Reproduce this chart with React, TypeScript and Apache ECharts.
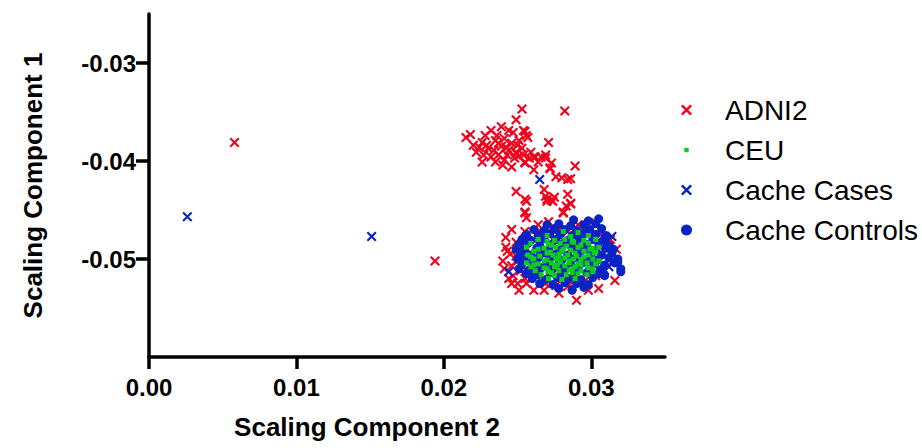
import React, { useEffect, useRef } from "react";
import * as echarts from "echarts";

const xTicks = [0, 0.01, 0.02, 0.03];
const yTicks = [-0.05, -0.04, -0.03];
const seriesNames = ["ADNI2", "CEU", "Cache Cases", "Cache Controls"];

const adni2: number[][] = [
  [0.0058, -0.0381], [0.0194, -0.0502],
  [0.0253, -0.0347], [0.0282, -0.0349], [0.0249, -0.0358], [0.0239, -0.0365],
  [0.0215, -0.0376], [0.0218, -0.0373], [0.0232, -0.0369], [0.0247, -0.0371],
  [0.0255, -0.0370], [0.0271, -0.0381], [0.0226, -0.0381], [0.0235, -0.0379],
  [0.0237, -0.0382], [0.0257, -0.0376], [0.0251, -0.0379], [0.0222, -0.0391],
  [0.0230, -0.0387], [0.0242, -0.0386], [0.0249, -0.0391], [0.0253, -0.0387],
  [0.0226, -0.0401], [0.0235, -0.0401], [0.0246, -0.0406], [0.0241, -0.0399],
  [0.0255, -0.0401], [0.0262, -0.0396], [0.0266, -0.0396], [0.0269, -0.0394],
  [0.0273, -0.0402], [0.0272, -0.0408], [0.0289, -0.0405], [0.0261, -0.0409],
  [0.0280, -0.0417], [0.0286, -0.0418], [0.0249, -0.0431], [0.0255, -0.0439],
  [0.0268, -0.0429], [0.0269, -0.0436], [0.0275, -0.0437], [0.0284, -0.0434],
  [0.0286, -0.0444], [0.0228, -0.0374], [0.0254, -0.0369], [0.0256, -0.0374],
  [0.0250, -0.0384], [0.0249, -0.0392], [0.0261, -0.0396], [0.0272, -0.0407],
  [0.0255, -0.0402], [0.0284, -0.0419], [0.0270, -0.0439], [0.0273, -0.0440],
  [0.0255, -0.0452], [0.0281, -0.0452],
  [0.0229, -0.0384], [0.0234, -0.0389], [0.0239, -0.0385], [0.0244, -0.0389],
  [0.0246, -0.0382], [0.0241, -0.0377], [0.0227, -0.0394], [0.0232, -0.0396],
  [0.0237, -0.0394], [0.0243, -0.0394], [0.0248, -0.0397], [0.0251, -0.0395],
  [0.0254, -0.0394], [0.0258, -0.0397], [0.0259, -0.0391], [0.0224, -0.0386],
  [0.0220, -0.0384], [0.0236, -0.0374], [0.0244, -0.0369], [0.0240, -0.0404],
  [0.0264, -0.0401], [0.0269, -0.0397], [0.0276, -0.0416],
  [0.0256, -0.0441], [0.0270, -0.0441], [0.0274, -0.0441], [0.0283, -0.0446],
  [0.0286, -0.0443], [0.0255, -0.0453], [0.0256, -0.0458], [0.0271, -0.0462],
  [0.0281, -0.0453], [0.0246, -0.0470], [0.0255, -0.0472], [0.0303, -0.0463],
  [0.0266, -0.0473], [0.0278, -0.0470], [0.0284, -0.0472], [0.0306, -0.0475],
  [0.0249, -0.0483], [0.0253, -0.0487], [0.0245, -0.0495], [0.0249, -0.0497],
  [0.0246, -0.0507], [0.0252, -0.0512], [0.0255, -0.0520], [0.0247, -0.0517],
  [0.0256, -0.0525], [0.0269, -0.0525], [0.0276, -0.0527], [0.0284, -0.0528],
  [0.0291, -0.0525], [0.0296, -0.0522], [0.0290, -0.0542], [0.0303, -0.0517],
  [0.0309, -0.0512], [0.0314, -0.0503], [0.0313, -0.0480], [0.0305, -0.0487],
  [0.0242, -0.0488], [0.0240, -0.0502], [0.0250, -0.0502], [0.0261, -0.0480],
  [0.0264, -0.0465], [0.0274, -0.0480], [0.0291, -0.0465], [0.0298, -0.0472],
  [0.0261, -0.0532], [0.0305, -0.0530], [0.0250, -0.0525], [0.0244, -0.0520],
  [0.0242, -0.0478], [0.0243, -0.0492], [0.0241, -0.0510], [0.0246, -0.0525],
  [0.0251, -0.0532], [0.0268, -0.0532], [0.0278, -0.0535], [0.0298, -0.0532],
  [0.0317, -0.0490], [0.0316, -0.0522],
];

const cacheCases: number[][] = [
  [0.0026, -0.0457], [0.0151, -0.0477], [0.0265, -0.0419], [0.0244, -0.0513],
  [0.0257, -0.0513], [0.0293, -0.0472], [0.0314, -0.0477], [0.0310, -0.0480],
  [0.0312, -0.0508], [0.0264, -0.0495], [0.0298, -0.0502], [0.0260, -0.0516],
];

const cacheControls: number[][] = [
  [0.0288, -0.0460], [0.0298, -0.0461], [0.0305, -0.0459],
  [0.0270, -0.0465], [0.0278, -0.0464], [0.0286, -0.0466], [0.0295, -0.0465], [0.0303, -0.0464],
  [0.0261, -0.0470], [0.0268, -0.0471], [0.0275, -0.0469], [0.0282, -0.0470], [0.0290, -0.0471], [0.0299, -0.0470], [0.0307, -0.0469],
  [0.0256, -0.0475], [0.0264, -0.0476], [0.0272, -0.0474], [0.0279, -0.0475], [0.0287, -0.0476], [0.0295, -0.0474], [0.0303, -0.0475], [0.0310, -0.0476],
  [0.0253, -0.0480], [0.0259, -0.0481], [0.0268, -0.0479], [0.0276, -0.0480], [0.0284, -0.0481], [0.0292, -0.0479], [0.0301, -0.0480], [0.0308, -0.0481],
  [0.0251, -0.0485], [0.0257, -0.0484], [0.0265, -0.0486], [0.0273, -0.0485], [0.0281, -0.0484], [0.0289, -0.0486], [0.0297, -0.0485], [0.0305, -0.0484], [0.0312, -0.0486],
  [0.0249, -0.0490], [0.0255, -0.0491], [0.0263, -0.0489], [0.0271, -0.0490], [0.0279, -0.0491], [0.0287, -0.0489], [0.0295, -0.0490], [0.0303, -0.0491], [0.0310, -0.0489], [0.0315, -0.0490],
  [0.0252, -0.0495], [0.0259, -0.0496], [0.0268, -0.0494], [0.0276, -0.0495], [0.0284, -0.0496], [0.0292, -0.0494], [0.0300, -0.0495], [0.0307, -0.0496], [0.0314, -0.0494],
  [0.0250, -0.0500], [0.0256, -0.0501], [0.0264, -0.0499], [0.0272, -0.0500], [0.0280, -0.0501], [0.0289, -0.0499], [0.0297, -0.0500], [0.0304, -0.0501], [0.0312, -0.0499], [0.0318, -0.0500],
  [0.0253, -0.0505], [0.0261, -0.0506], [0.0270, -0.0504], [0.0278, -0.0505], [0.0286, -0.0506], [0.0294, -0.0504], [0.0302, -0.0505], [0.0309, -0.0506], [0.0316, -0.0504],
  [0.0251, -0.0510], [0.0258, -0.0511], [0.0266, -0.0509], [0.0274, -0.0510], [0.0282, -0.0511], [0.0291, -0.0509], [0.0299, -0.0510], [0.0306, -0.0511], [0.0320, -0.0510],
  [0.0256, -0.0515], [0.0264, -0.0516], [0.0272, -0.0514], [0.0280, -0.0515], [0.0289, -0.0516], [0.0297, -0.0514], [0.0305, -0.0515], [0.0309, -0.0516],
  [0.0260, -0.0520], [0.0269, -0.0521], [0.0277, -0.0519], [0.0285, -0.0520], [0.0293, -0.0521], [0.0301, -0.0519],
  [0.0265, -0.0525], [0.0274, -0.0526], [0.0282, -0.0524], [0.0290, -0.0525], [0.0298, -0.0526],
  [0.0278, -0.0530], [0.0287, -0.0531], [0.0295, -0.0529],
  [0.0318, -0.0503], [0.0320, -0.0513], [0.0309, -0.0517], [0.0287, -0.0532],
];

const ceu: number[][] = [
  [0.0281, -0.0472], [0.0291, -0.0473],
  [0.0270, -0.0476], [0.0286, -0.0477], [0.0298, -0.0476],
  [0.0264, -0.0480], [0.0275, -0.0481], [0.0282, -0.0480], [0.0295, -0.0481], [0.0303, -0.0480],
  [0.0259, -0.0484], [0.0271, -0.0485], [0.0279, -0.0484], [0.0288, -0.0483], [0.0298, -0.0484],
  [0.0256, -0.0488], [0.0268, -0.0489], [0.0276, -0.0488], [0.0283, -0.0487], [0.0291, -0.0488], [0.0301, -0.0489], [0.0305, -0.0488],
  [0.0261, -0.0492], [0.0272, -0.0493], [0.0280, -0.0492], [0.0286, -0.0491], [0.0295, -0.0492], [0.0303, -0.0493],
  [0.0257, -0.0496], [0.0265, -0.0497], [0.0274, -0.0496], [0.0278, -0.0495], [0.0284, -0.0496], [0.0290, -0.0497], [0.0298, -0.0496],
  [0.0261, -0.0500], [0.0270, -0.0501], [0.0276, -0.0500], [0.0282, -0.0499], [0.0288, -0.0500], [0.0293, -0.0501], [0.0301, -0.0500],
  [0.0256, -0.0504], [0.0264, -0.0505], [0.0273, -0.0504], [0.0279, -0.0503], [0.0285, -0.0504], [0.0291, -0.0505], [0.0297, -0.0504], [0.0303, -0.0505],
  [0.0259, -0.0508], [0.0268, -0.0509], [0.0275, -0.0508], [0.0282, -0.0507], [0.0289, -0.0508], [0.0298, -0.0509],
  [0.0262, -0.0512], [0.0271, -0.0513], [0.0278, -0.0512], [0.0285, -0.0511], [0.0293, -0.0512], [0.0301, -0.0513],
  [0.0266, -0.0516], [0.0275, -0.0517], [0.0283, -0.0516], [0.0291, -0.0515], [0.0297, -0.0516],
  [0.0271, -0.0520], [0.0280, -0.0521], [0.0289, -0.0520],
  [0.0264, -0.0490], [0.0281, -0.0490], [0.0299, -0.0490],
  [0.0270, -0.0494], [0.0289, -0.0494], [0.0302, -0.0494],
  [0.0259, -0.0498], [0.0278, -0.0498], [0.0295, -0.0498],
  [0.0268, -0.0502], [0.0285, -0.0502], [0.0305, -0.0502],
  [0.0261, -0.0506], [0.0277, -0.0506], [0.0293, -0.0506],
  [0.0270, -0.0510], [0.0287, -0.0510], [0.0301, -0.0510],
  [0.0273, -0.0514], [0.0287, -0.0514],
  [0.0273, -0.0486], [0.0293, -0.0486],
  [0.0270, -0.0482], [0.0287, -0.0482],
];

const X_MARK =
  "path://M1.5,0 L5,3.5 L8.5,0 L10,1.5 L6.5,5 L10,8.5 L8.5,10 L5,6.5 L1.5,10 L0,8.5 L3.5,5 L0,1.5 Z";
const SMALL_SQUARE = "path://M0,0 L0,0 M10,10 L10,10 M3,3 L7,3 L7,7 L3,7 Z";

const RED = "#f2001c";
const GREEN = "#10cc1c";
const BLUE = "#0a24c4";
const FONT = "'Liberation Sans', Arial, sans-serif";

export default function App() {
  const ref = useRef<HTMLDivElement>(null);
  useEffect(() => {
    if (!ref.current) return;
    const chart = echarts.init(ref.current, null, { renderer: "svg" });
    const axisLabelStyle = {
      fontFamily: FONT,
      fontWeight: "bold" as const,
      fontSize: 24,
      color: "#000",
    };
    const titleStyle = {
      fontFamily: FONT,
      fontWeight: "bold" as const,
      fontSize: 26,
      color: "#000",
    };
    chart.setOption({
      animation: false,
      backgroundColor: "#fff",
      grid: { left: 149, right: 257, top: 14, bottom: 91, containLabel: false },
      xAxis: {
        type: "value",
        min: 0,
        max: 0.035,
        interval: 0.01,
        name: "Scaling Component 2",
        nameLocation: "middle",
        nameGap: 57,
        nameTextStyle: { ...titleStyle, padding: [0, 80, 0, 0] },
        axisLine: { onZero: false, lineStyle: { color: "#000", width: 3.5 } },
        axisTick: { length: 12, lineStyle: { color: "#000", width: 3.5 }, customValues: xTicks },
        axisLabel: {
          ...axisLabelStyle,
          margin: 18,
          customValues: xTicks,
          formatter: (v: number) => v.toFixed(2),
        },
        splitLine: { show: false },
      },
      yAxis: {
        type: "value",
        min: -0.06,
        max: -0.025,
        interval: 0.01,
        name: "Scaling Component 1",
        nameLocation: "middle",
        nameGap: 103,
        nameTextStyle: titleStyle,
        axisLine: { onZero: false, lineStyle: { color: "#000", width: 3.5 } },
        axisTick: { length: 13, lineStyle: { color: "#000", width: 3.5 }, customValues: yTicks },
        axisLabel: {
          ...axisLabelStyle,
          margin: 13,
          customValues: yTicks,
          formatter: (v: number) => v.toFixed(2),
        },
        splitLine: { show: false },
      },
      legend: {
        orient: "vertical",
        left: 676,
        top: 90,
        itemWidth: 11,
        itemHeight: 11,
        itemGap: 10,
        textStyle: {
          fontFamily: FONT,
          fontSize: 28,
          color: "#000",
          lineHeight: 30,
          padding: [0, 0, 0, 28],
        },
        data: [
          { name: seriesNames[0], icon: X_MARK },
          { name: seriesNames[1], icon: SMALL_SQUARE },
          { name: seriesNames[2], icon: X_MARK },
          { name: seriesNames[3], icon: "circle" },
        ],
      },
      series: [
        {
          name: seriesNames[0],
          type: "scatter",
          data: adni2,
          symbol: X_MARK,
          symbolSize: 10,
          itemStyle: { color: RED, opacity: 1 },
        },
        {
          name: seriesNames[3],
          type: "scatter",
          data: cacheControls,
          symbol: "circle",
          symbolSize: 9,
          itemStyle: { color: BLUE, opacity: 1 },
        },
        {
          name: seriesNames[2],
          type: "scatter",
          data: cacheCases,
          symbol: X_MARK,
          symbolSize: 10,
          itemStyle: { color: BLUE, opacity: 1 },
        },
        {
          name: seriesNames[1],
          type: "scatter",
          data: ceu,
          symbol: "rect",
          symbolSize: 5,
          itemStyle: { color: GREEN, opacity: 1 },
        },
      ],
    });
    return () => chart.dispose();
  }, []);
  return (
    <div
      ref={ref}
      style={{ position: "fixed", left: 0, top: 0, width: 922, height: 448 }}
    />
  );
}
